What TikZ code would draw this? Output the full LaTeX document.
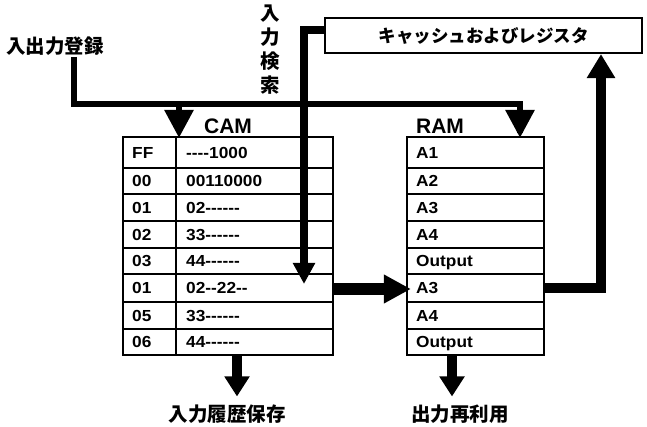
\documentclass[tikz,border=0pt]{standalone}
\usepackage{fontspec}
\setmainfont{Liberation Sans}
\newfontfamily\cellfont[FakeStretch=1.08]{Liberation Sans}
\newfontfamily\jp{Noto Sans CJK JP}
\usetikzlibrary{arrows.meta,calc}
\tikzset{
  tbl/.style={draw,line width=2.2pt,inner sep=0pt},
  rowline/.style={line width=1.4pt},
  cell/.style={anchor=base west,inner sep=0pt,font=\fontsize{16}{16}\cellfont\bfseries},
  title/.style={inner sep=0pt,font=\fontsize{21}{21}\selectfont\bfseries},
  jlabel/.style={inner sep=0pt,font=\fontsize{19.5}{24}\jp\bfseries},
  feed/.style={line width=6pt},
  bigarrow/.style={-{Triangle[width=#1,length=#1]}},
}
\begin{document}
\begin{tikzpicture}[x=1pt,y=-1pt]
\useasboundingbox (0,0) rectangle (647,427);
% tables
\node[tbl,minimum width=210pt,minimum height=218pt] (cam) at (227.9,246) {};
\node[tbl,minimum width=137pt,minimum height=218pt] (ram) at (475.5,246) {};
\node[title] (camt) at (228,126) {CAM};
\node[title] (ramt) at (440,126) {RAM};
\draw[rowline] (176,137) -- (176,355);
\foreach \y in {168,194,221,248,274,302,329}{
  \draw[rowline] (122.9,\y) -- (333,\y);
  \draw[rowline] (407,\y) -- (544,\y);
}
% CAM cells
\node[cell] (k1) at (132,158.7) {FF};      \node[cell] (v1) at (186,158.7) {-{}-{}-{}-1000};
\node[cell] (k2) at (132,186.7) {00};      \node[cell] (v2) at (186,186.7) {00110000};
\node[cell] (k3) at (132,213.2) {01};      \node[cell] (v3) at (186,213.2) {02-{}-{}-{}-{}-{}-};
\node[cell] (k4) at (132,240.2) {02};      \node[cell] (v4) at (186,240.2) {33-{}-{}-{}-{}-{}-};
\node[cell] (k5) at (132,266.7) {03};      \node[cell] (v5) at (186,266.7) {44-{}-{}-{}-{}-{}-};
\node[cell] (k6) at (132,293.7) {01};      \node[cell] (v6) at (186,293.7) {02-{}-22-{}-};
\node[cell] (k7) at (132,321.2) {05};      \node[cell] (v7) at (186,321.2) {33-{}-{}-{}-{}-{}-};
\node[cell] (k8) at (132,347.7) {06};      \node[cell] (v8) at (186,347.7) {44-{}-{}-{}-{}-{}-};
% RAM cells
\node[cell] (r1) at (416,158.7) {A1};
\node[cell] (r2) at (416,186.7) {A2};
\node[cell] (r3) at (416,213.2) {A3};
\node[cell] (r4) at (416,240.2) {A4};
\node[cell] (r5) at (416,266.7) {Output};
\node[cell] (r6) at (416,293.7) {A3};
\node[cell] (r7) at (416,321.2) {A4};
\node[cell] (r8) at (416,347.7) {Output};
% cache box
\node[draw,line width=2.2pt,minimum width=317pt,minimum height=35pt,inner sep=0pt,
      font=\fontsize{17.5}{17.5}\jp\bfseries] (cache) at (483.5,35.5) {キャッシュおよびレジスタ};
% labels
\node[jlabel] (reg) at (55,46) {入出力登録};
\node[jlabel,align=center] (search) at (270,50) {入\\力\\検\\索};
\node[jlabel] (hist) at (227,414) {入力履歴保存};
\node[jlabel] (reuse) at (460,414) {出力再利用};
% coordinates
\coordinate (regdown) at (74,57);
\coordinate (bus) at (74,104);
\coordinate (busend) at (520,104);
\coordinate (camin) at (179,104);
\coordinate (srch) at (304,30);
% connectors
\draw[feed] (regdown) -- (bus) -- (busend) -- ($(ram.north -| busend)+(0,-3)$);
\draw[line width=6pt,bigarrow=28pt] (busend) -- ($(ram.north -| busend)+(0,2)$);
\draw[line width=6pt,bigarrow=28pt] (camin) -- ($(cam.north -| camin)+(0,2)$);
\draw[line width=8pt,-{Triangle[width=21pt,length=21pt]}] (cache.west |- srch) -- (srch) -- (304,284);
\draw[line width=12pt,-{Triangle[width=27pt,length=27pt]}] (cam.east |- 0,289) -- ($(ram.west |- 0,289)+(5,0)$);
\draw[line width=10pt,-{Triangle[width=27pt,length=24pt]}] (ram.east |- 0,288) -- (601,288) -- (cache.south -| 601,0);
\draw[line width=10pt,-{Triangle[width=24pt,length=20pt]}] (cam.south -| 237,0) -- ($(hist.north)+(10,-8)$);
\draw[line width=10pt,-{Triangle[width=24pt,length=20pt]}] (ram.south -| 452,0) -- ($(reuse.north -| 452,0)+(0,-8)$);
\end{tikzpicture}
\end{document}
